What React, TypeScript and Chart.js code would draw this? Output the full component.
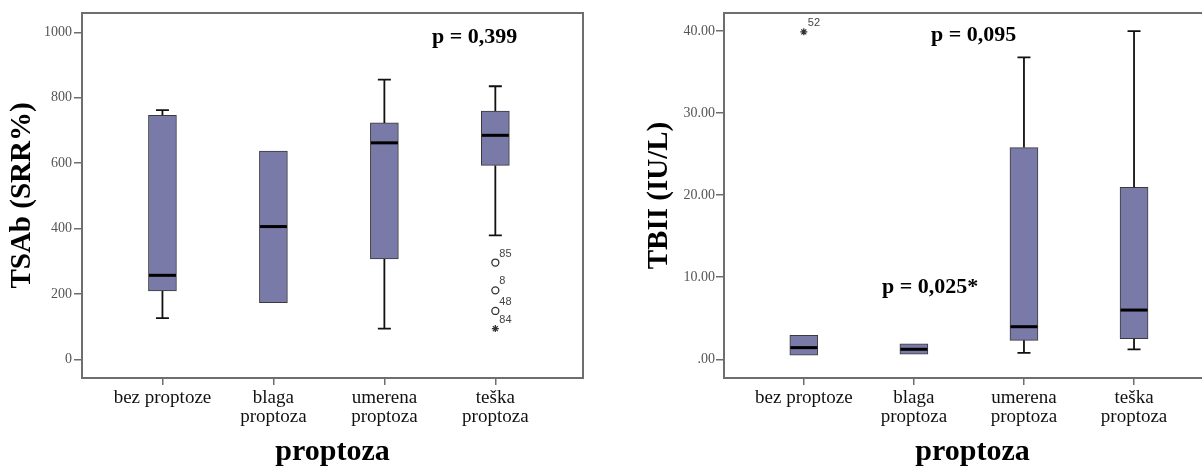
import React, { useEffect, useRef } from 'react';
import { Chart, registerables } from 'chart.js';

Chart.register(...registerables);

const categories: string[][] = [['bez proptoze'], ['blaga', 'proptoza'], ['umerena', 'proptoza'], ['teška', 'proptoza']];

// TSAb (SRR%)
const tsabMin = [126, 173, 94, 379];
const tsabQ1 = [209, 173, 307, 593];
const tsabMedian = [257, 406, 662, 685];
const tsabQ3 = [746, 637, 723, 759];
const tsabMax = [762, 637, 855, 835];
const tsabOutlierCat = [3, 3, 3, 3];
const tsabOutlierVal = [296, 211, 148, 94];
const tsabOutlierId = ['85', '8', '48', '84'];
const tsabOutlierKind = ['circle', 'circle', 'circle', 'star'];
const tsabTicks = [0, 200, 400, 600, 800, 1000];

// TBII (IU/L)
const tbiiMin = [0.49, 0.61, 0.77, 1.22];
const tbiiQ1 = [0.49, 0.61, 2.31, 2.5];
const tbiiMedian = [1.42, 1.22, 3.97, 6.0];
const tbiiQ3 = [2.92, 1.87, 25.8, 20.97];
const tbiiMax = [2.92, 1.87, 36.8, 40];
const tbiiOutlierCat = [0];
const tbiiOutlierVal = [39.9];
const tbiiOutlierId = ['52'];
const tbiiOutlierKind = ['star'];
const tbiiTicks = [0, 10, 20, 30, 40];

const SERIF = '"Liberation Serif", "Times New Roman", serif';
const FRAME = '#6e6e6e';
const BOX_FILL = '#7a7aa8';

type PText = { text: string; x: number; y: number };

interface PanelCfg {
  min: number[];
  q1: number[];
  med: number[];
  q3: number[];
  max: number[];
  oCat: number[];
  oVal: number[];
  oId: string[];
  oKind: string[];
  ticks: number[];
  yMin: number;
  yMax: number;
  yTitle: string;
  yTitlePad: number;
  yAxisWidth: number;
  rightPad: number;
  tickFmt: (v: number) => string;
  tickPad: number;
  pTexts: PText[];
}

const boxExtras = {
  id: 'boxExtras',
  afterDatasetsDraw(chart: any, _args: any, opts: any) {
    const cfg: PanelCfg = opts.cfg;
    if (!cfg) return;
    const { ctx, chartArea } = chart;
    const xs = chart.scales.x;
    const ys = chart.scales.y;
    const capHalf = 6.5;
    const halfBox = 14;
    ctx.save();
    // whiskers
    ctx.strokeStyle = '#111';
    ctx.lineWidth = 1.8;
    cfg.min.forEach((_, i) => {
      const px = xs.getPixelForValue(i);
      const segs: [number, number][] = [];
      if (cfg.max[i] > cfg.q3[i]) segs.push([cfg.q3[i], cfg.max[i]]);
      if (cfg.min[i] < cfg.q1[i]) segs.push([cfg.q1[i], cfg.min[i]]);
      segs.forEach(([from, to]) => {
        const y0 = ys.getPixelForValue(from);
        const y1 = ys.getPixelForValue(to);
        ctx.beginPath();
        ctx.moveTo(px, y0);
        ctx.lineTo(px, y1);
        ctx.moveTo(px - capHalf, y1);
        ctx.lineTo(px + capHalf, y1);
        ctx.stroke();
      });
    });
    // medians
    ctx.strokeStyle = '#000';
    ctx.lineWidth = 3;
    cfg.med.forEach((m, i) => {
      const px = xs.getPixelForValue(i);
      const py = ys.getPixelForValue(m);
      ctx.beginPath();
      ctx.moveTo(px - halfBox + 0.5, py);
      ctx.lineTo(px + halfBox - 0.5, py);
      ctx.stroke();
    });
    // outlier ids
    ctx.fillStyle = '#444';
    ctx.font = '11px "Liberation Sans", Arial, sans-serif';
    ctx.textAlign = 'left';
    ctx.textBaseline = 'middle';
    cfg.oId.forEach((id, i) => {
      const px = xs.getPixelForValue(cfg.oCat[i]);
      const py = ys.getPixelForValue(cfg.oVal[i]);
      ctx.fillText(id, px + 4, py - 9);
    });
    // frame
    ctx.strokeStyle = FRAME;
    ctx.lineWidth = 2;
    ctx.strokeRect(chartArea.left, chartArea.top, chartArea.right - chartArea.left, chartArea.bottom - chartArea.top);
    // p values
    ctx.fillStyle = '#000';
    ctx.font = 'bold 22px ' + SERIF;
    ctx.textAlign = 'left';
    ctx.textBaseline = 'alphabetic';
    cfg.pTexts.forEach((p) => ctx.fillText(p.text, p.x, p.y));
    ctx.restore();
  },
};

function makeChart(canvas: HTMLCanvasElement, cfg: PanelCfg) {
  const boxData = cfg.q1.map((q, i) => ({ x: i, y: [q, cfg.q3[i]] }));
  const outData = cfg.oVal.map((v, i) => ({ x: cfg.oCat[i], y: v }));
  return new Chart(canvas, {
    type: 'bar',
    data: {
      datasets: [
        {
          type: 'bar',
          data: boxData as any,
          backgroundColor: BOX_FILL,
          borderColor: '#3a3a3a',
          borderWidth: 1,
          borderSkipped: false,
          barThickness: 28,
        } as any,
        {
          type: 'scatter',
          data: outData as any,
          pointStyle: (c: any) => cfg.oKind[c.dataIndex] as any,
          radius: 3.5,
          borderColor: '#333',
          backgroundColor: 'rgba(0,0,0,0)',
          borderWidth: 1.3,
          showLine: false,
        } as any,
      ],
    },
    options: {
      responsive: false,
      animation: false,
      devicePixelRatio: 1,
      layout: { padding: { top: 13, right: cfg.rightPad, left: 0, bottom: 0 } },
      plugins: {
        legend: { display: false },
        tooltip: { enabled: false },
        boxExtras: { cfg },
      } as any,
      scales: {
        x: {
          type: 'linear',
          offset: false,
          min: -0.725,
          max: 3.79,
          afterBuildTicks: (s: any) => {
            s.ticks = categories.map((_, i) => ({ value: i }));
          },
          afterFit: (s: any) => {
            s.height = 92;
          },
          grid: { display: true, offset: false, drawOnChartArea: false, drawTicks: true, tickLength: 7, color: FRAME, lineWidth: 1.5 },
          border: { display: false },
          ticks: {
            autoSkip: false,
            maxRotation: 0,
            minRotation: 0,
            padding: 3,
            color: '#111',
            font: { family: SERIF, size: 19, lineHeight: 1.02 },
            callback: (v: any) => categories[Math.round(v)] ?? '',
          },
          title: {
            display: true,
            text: 'proptoza',
            color: '#000',
            font: { family: SERIF, size: 30, weight: 'bold', lineHeight: 1.2 },
            padding: { top: 0, bottom: 0 },
          },
        },
        y: {
          type: 'linear',
          min: cfg.yMin,
          max: cfg.yMax,
          afterBuildTicks: (s: any) => {
            s.ticks = cfg.ticks.map((v) => ({ value: v }));
          },
          afterFit: (s: any) => {
            s.width = cfg.yAxisWidth;
          },
          grid: { display: true, drawOnChartArea: false, drawTicks: true, tickLength: 8, color: FRAME, lineWidth: 1.5 },
          border: { display: false },
          ticks: {
            padding: cfg.tickPad,
            color: '#555',
            font: { family: SERIF, size: 14 },
            callback: (v: any) => cfg.tickFmt(Number(v)),
          },
          title: {
            display: true,
            text: cfg.yTitle,
            color: '#000',
            font: { family: SERIF, size: 29, weight: 'bold', lineHeight: 1.2 },
            padding: { top: cfg.yTitlePad, bottom: 0 },
          },
        },
      },
    } as any,
    plugins: [boxExtras],
  });
}

const leftCfg: PanelCfg = {
  min: tsabMin,
  q1: tsabQ1,
  med: tsabMedian,
  q3: tsabQ3,
  max: tsabMax,
  oCat: tsabOutlierCat,
  oVal: tsabOutlierVal,
  oId: tsabOutlierId,
  oKind: tsabOutlierKind,
  ticks: tsabTicks,
  yMin: -57,
  yMax: 1059,
  yTitle: 'TSAb (SRR%)',
  yTitlePad: 5,
  yAxisWidth: 82,
  rightPad: 17,
  tickFmt: (v) => String(v),
  tickPad: 2,
  pTexts: [{ text: 'p = 0,399', x: 432, y: 43 }],
};

const rightCfg: PanelCfg = {
  min: tbiiMin,
  q1: tbiiQ1,
  med: tbiiMedian,
  q3: tbiiQ3,
  max: tbiiMax,
  oCat: tbiiOutlierCat,
  oVal: tbiiOutlierVal,
  oId: tbiiOutlierId,
  oKind: tbiiOutlierKind,
  ticks: tbiiTicks,
  yMin: -2.28,
  yMax: 42.2,
  yTitle: 'TBII (IU/L)',
  yTitlePad: 42,
  yAxisWidth: 124,
  rightPad: 19,
  tickFmt: (v) => (v === 0 ? '.00' : v.toFixed(2)),
  tickPad: 1,
  pTexts: [
    { text: 'p = 0,095', x: 331, y: 41 },
    { text: 'p = 0,025*', x: 282, y: 293 },
  ],
};

export default function App() {
  const leftRef = useRef<HTMLCanvasElement>(null);
  const rightRef = useRef<HTMLCanvasElement>(null);
  useEffect(() => {
    const a = makeChart(leftRef.current!, leftCfg);
    const b = makeChart(rightRef.current!, rightCfg);
    return () => {
      a.destroy();
      b.destroy();
    };
  }, []);
  return (
    <div style={{ position: 'fixed', left: 0, top: 0, width: 1202, height: 470, overflow: 'hidden', background: '#fff' }}>
      <canvas ref={leftRef} width={600} height={470} style={{ position: 'absolute', left: 0, top: 0, width: 600, height: 470 }} />
      <canvas ref={rightRef} width={640} height={470} style={{ position: 'absolute', left: 600, top: 0, width: 640, height: 470 }} />
    </div>
  );
}
